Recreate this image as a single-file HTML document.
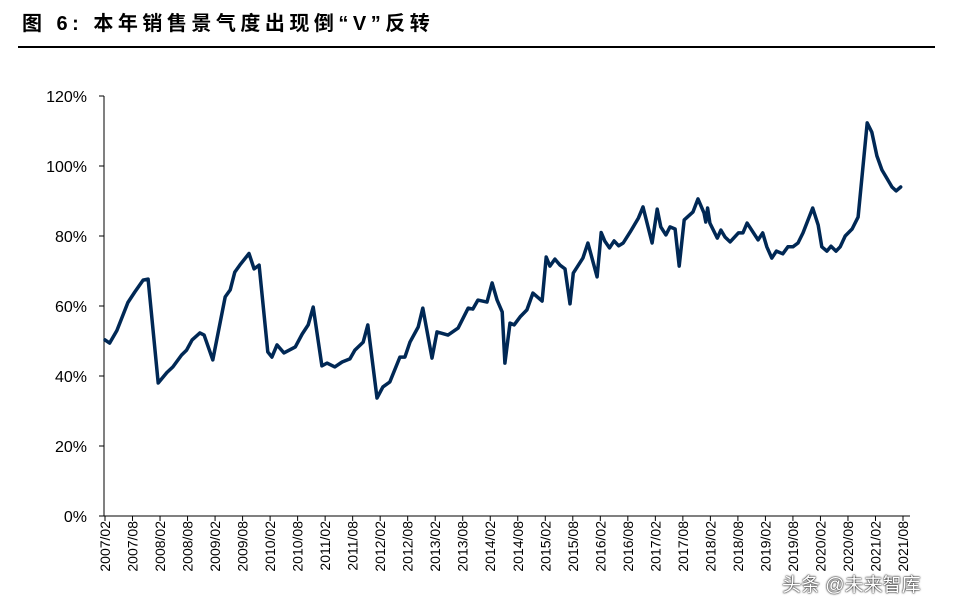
<!DOCTYPE html>
<html><head><meta charset="utf-8">
<style>
body{margin:0;background:#fff;width:973px;height:613px;overflow:hidden;font-family:"Liberation Sans","Noto Sans CJK SC",sans-serif;}
#title{position:absolute;left:22px;top:7px;font-size:20px;font-weight:bold;color:#000;letter-spacing:4.5px;white-space:nowrap;}
#rule{position:absolute;left:18px;top:46px;width:917px;height:2px;background:#000;}
#wm{position:absolute;left:782px;top:570px;font-size:19px;color:#fff;text-shadow:0 0 2px #000,0 0 1px #000;}
</style></head><body>
<div id="title">图 6:&nbsp;本年销售景气度出现倒“V”反转</div>
<div id="rule"></div>
<svg id="chart" width="973" height="613" style="position:absolute;left:0;top:0"></svg>
<div id="wm">头条 @未来智库</div>
<script>
const months=[0,1,2.6,5,6.5,8.3,9.4,11.6,13.5,14.8,16.7,17.8,19,20.7,21.6,23.5,26.2,27.3,28.3,29.4,31.4,32.5,33.6,35.5,36.4,37.5,39,41.5,43,44.3,45.4,47.3,48.4,50.1,51.7,53.4,54.5,56.3,57.3,59.3,60.6,62.1,64.3,65.4,66.5,68.3,69.3,71.3,72.4,74.8,77,79.2,80.2,81.3,83.3,84.4,85.5,86.6,87.2,88.3,89.2,90.5,92,93.3,95.3,96.2,97,98.1,99.2,100.3,101.4,102.1,104.2,105.3,107.3,108.2,109,110,111,112,113,114.5,116.3,117.3,119.3,120.4,121.2,122.3,123.2,124.3,125.2,126.3,128.2,129.3,130.6,131,131.4,131.9,133.5,134.3,135.2,136.3,138.1,139.1,140,142.4,143.4,144.3,145.4,146.4,147.8,148.9,150,151.1,152.2,154.3,155.5,156.3,157.4,158.3,159.4,160.3,161.4,162.9,164.2,166.2,167.2,168.3,169.4,171.6,172.5,173.5];
const values=[50.3,49.4,53,61,64,67.4,67.7,38,41,42.6,46,47.4,50.3,52.3,51.7,44.6,62.6,64.6,69.7,71.7,75,70.6,71.7,46.9,45.4,48.9,46.6,48.3,52,54.6,59.7,42.9,43.7,42.6,44,44.9,47.4,49.7,54.6,33.7,36.9,38.3,45.4,45.4,49.7,54,59.4,45.1,52.6,51.7,53.7,59.4,59.1,61.7,61.1,66.6,61.7,58.3,43.7,55.1,54.6,56.9,58.9,63.7,61.4,74,71.4,73.4,71.7,70.6,60.6,69.4,73.7,78,68.3,81,78.5,76.6,78.6,77.2,78,81.1,85.1,88.3,78,87.7,82.6,80.3,82.6,82,71.4,84.6,86.9,90.6,86.6,84,88,83.7,79.4,81.7,79.7,78.3,80.9,80.9,83.7,78.9,80.9,76.9,73.7,75.7,74.9,76.9,76.9,78,80.9,88,83.1,76.9,75.7,77.1,75.7,76.9,80,82,85.4,112.3,109.7,102.9,98.9,94,92.9,94];
const yTicks=[0,20,40,60,80,100,120];
const xLabels=[];for(let y=2007;y<=2021;y++){xLabels.push(y+"/02");xLabels.push(y+"/08");}
const NS="http://www.w3.org/2000/svg";
const svg=document.getElementById('chart');
const X0=105,X1=903,Y0=516,Y1=96,SPAN=174;
function xs(m){return X0+m*(X1-X0)/SPAN;}
function ys(v){return Y0-v*(Y0-Y1)/120;}
function mk(t,a){const e=document.createElementNS(NS,t);for(const k in a)e.setAttribute(k,a[k]);svg.appendChild(e);return e;}
let e=mk('line',{x1:104,y1:Y1,x2:104,y2:Y0,stroke:'#000','stroke-width':1});


e=mk('line',{x1:104,y1:Y0,x2:910,y2:Y0,stroke:'#000','stroke-width':1});


yTicks.forEach(v=>{
 const t=mk('line',{x1:99,y1:ys(v),x2:104,y2:ys(v),stroke:'#000'});
 
 
 const l=mk('text',{x:87,y:ys(v)+6,'text-anchor':'end','font-size':16,fill:'#000'});
 l.textContent=v+'%';
 
 
});
xLabels.forEach((s,i)=>{
 const x=xs(i*6);
 const t=mk('line',{x1:x,y1:Y0,x2:x,y2:Y0+5,stroke:'#000'});
 
 
 const l=mk('text',{x:0,y:0,'text-anchor':'end','font-size':14,fill:'#000',transform:`translate(${x+5},${Y0+5}) rotate(-90)`});
 l.textContent=s;
 
 
});
const pts=months.map((m,i)=>xs(m).toFixed(1)+','+ys(values[i]).toFixed(1)).join(' ');
const line=mk('polyline',{points:pts,fill:'none',stroke:'#002855','stroke-width':3.5,'stroke-linejoin':'round','stroke-linecap':'round'});


</script>
</body></html>
